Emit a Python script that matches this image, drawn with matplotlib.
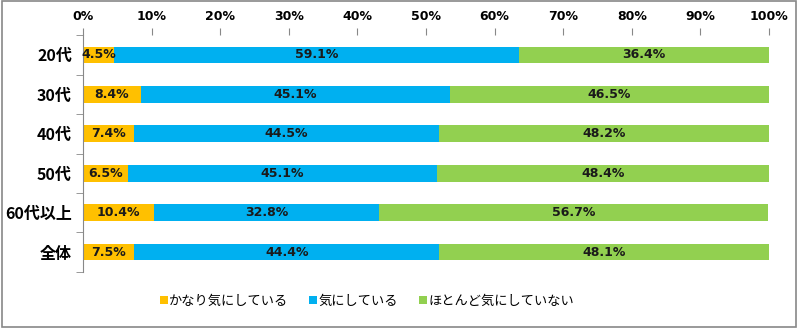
import numpy as np
import matplotlib.pyplot as plt
from matplotlib.ticker import FuncFormatter

plt.rcParams['font.family'] = ['Noto Sans CJK JP', 'DejaVu Sans']

groups = ['20代', '30代', '40代', '50代', '60代以上', '全体']
kanari = [4.5, 8.4, 7.4, 6.5, 10.4, 7.5]
kinishiteiru = [59.1, 45.1, 44.5, 45.1, 32.8, 44.4]
hotondo = [36.4, 46.5, 48.2, 48.4, 56.7, 48.1]
series_names = ['かなり気にしている', '気にしている', 'ほとんど気にしていない']
colors = ['#FFC000', '#00B0F0', '#92D050']

fig = plt.figure(figsize=(7.98, 3.28), dpi=100)
ax = fig.add_axes([0.104, 0.171, 0.8597, 0.722])

y = np.arange(len(groups))
left = np.zeros(len(groups))
for vals, name, col in zip([kanari, kinishiteiru, hotondo], series_names, colors):
    vals = np.array(vals)
    ax.barh(y, vals, left=left, height=0.42, color=col, label=name)
    for yi, l, v in zip(y, left, vals):
        ax.text(l + v / 2, yi, f'{v:.1f}%', ha='center', va='center',
                fontsize=9, fontweight='bold', color='#1a1a1a', family='DejaVu Sans')
    left = left + vals

ax.set_xlim(0, 100)
ax.set_ylim(len(groups) - 0.5, -0.5)
ax.xaxis.tick_top()
ax.set_xticks(np.arange(0, 101, 10))
ax.xaxis.set_major_formatter(FuncFormatter(lambda v, p: f'{v:.0f}%'))
ax.set_yticks(y)
ax.set_yticklabels(groups, fontsize=11.5, fontweight='bold')
ax.set_yticks(np.arange(-0.5, len(groups)), minor=True)
ax.tick_params(axis='y', which='major', length=0, pad=8)
ax.tick_params(axis='y', which='minor', length=5, color='#888888')
ax.tick_params(axis='x', length=5, color='#888888', pad=4)
for lbl in ax.get_xticklabels():
    lbl.set_fontweight('bold')
    lbl.set_fontsize(9)
    lbl.set_family('DejaVu Sans')
for s in ['top', 'right', 'bottom']:
    ax.spines[s].set_visible(False)
ax.spines['left'].set_color('#888888')

fig.legend(loc='lower center', bbox_to_anchor=(0.46, 0.025), ncol=3, frameon=False,
           fontsize=9.5, handlelength=0.6, handleheight=0.6, handletextpad=0.1,
           columnspacing=1.6)

fig.patches.append(plt.Rectangle((0.002, 0.003), 0.996, 0.994, transform=fig.transFigure,
                                 fill=False, edgecolor='#888888', linewidth=1.2))

fig.savefig('out.png', dpi=100)
